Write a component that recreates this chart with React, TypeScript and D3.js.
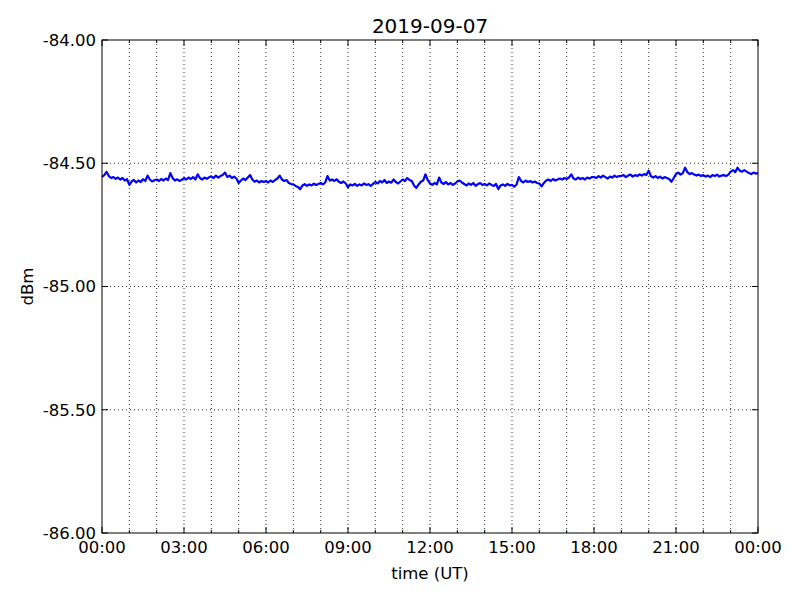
import React from "react";
import * as d3 from "d3";

const title = "2019-09-07";
const yTicks = [-86, -85.5, -85, -84.5, -84];
const xTickHours = [0, 3, 6, 9, 12, 15, 18, 21, 24];
const xTickLabels = ["00:00", "03:00", "06:00", "09:00", "12:00", "15:00", "18:00", "21:00", "00:00"];
const stepMinutes = 5;
// signal level (dBm), one sample every 5 minutes, 12 per hour
const levels: number[] = [
  -84.555, -84.548, -84.535, -84.552, -84.560, -84.556, -84.563, -84.558, -84.566, -84.560, -84.570, -84.565,
  -84.588, -84.574, -84.568, -84.578, -84.570, -84.576, -84.565, -84.572, -84.550, -84.566, -84.574, -84.569,
  -84.566, -84.572, -84.564, -84.570, -84.562, -84.568, -84.540, -84.560, -84.570, -84.565, -84.572, -84.567,
  -84.560, -84.566, -84.558, -84.564, -84.556, -84.566, -84.545, -84.560, -84.566, -84.558, -84.563, -84.557,
  -84.553, -84.560, -84.550, -84.558, -84.552, -84.548, -84.538, -84.556, -84.550, -84.560, -84.554, -84.562,
  -84.580, -84.570, -84.562, -84.568, -84.558, -84.548, -84.566, -84.575, -84.570, -84.578, -84.572, -84.576,
  -84.572, -84.578, -84.570, -84.576, -84.568, -84.562, -84.550, -84.566, -84.572, -84.568, -84.580, -84.584,
  -84.586, -84.592, -84.596, -84.605, -84.590, -84.585, -84.592, -84.586, -84.590, -84.583, -84.588, -84.584,
  -84.580, -84.586, -84.578, -84.552, -84.570, -84.566, -84.572, -84.565, -84.575, -84.580, -84.574, -84.582,
  -84.598, -84.586, -84.590, -84.584, -84.592, -84.586, -84.590, -84.582, -84.588, -84.585, -84.592, -84.584,
  -84.576, -84.582, -84.572, -84.578, -84.568, -84.580, -84.574, -84.579, -84.566, -84.576, -84.582, -84.574,
  -84.566, -84.572, -84.560, -84.568, -84.572, -84.590, -84.600, -84.586, -84.575, -84.570, -84.545, -84.568,
  -84.582, -84.588, -84.580, -84.586, -84.558, -84.578, -84.584, -84.576, -84.586, -84.580, -84.588, -84.582,
  -84.574, -84.570, -84.578, -84.584, -84.590, -84.582, -84.588, -84.580, -84.592, -84.585, -84.580, -84.588,
  -84.584, -84.590, -84.582, -84.588, -84.592, -84.584, -84.605, -84.590, -84.586, -84.592, -84.584, -84.590,
  -84.588, -84.595, -84.586, -84.556, -84.572, -84.578, -84.570, -84.576, -84.572, -84.578, -84.574, -84.580,
  -84.582, -84.594, -84.580, -84.570, -84.566, -84.572, -84.564, -84.570, -84.566, -84.562, -84.566, -84.560,
  -84.564, -84.558, -84.545, -84.562, -84.566, -84.558, -84.564, -84.560, -84.566, -84.558, -84.562, -84.556,
  -84.556, -84.560, -84.552, -84.558, -84.550, -84.556, -84.562, -84.554, -84.558, -84.550, -84.556, -84.552,
  -84.552, -84.548, -84.556, -84.550, -84.546, -84.554, -84.548, -84.552, -84.545, -84.550, -84.544, -84.548,
  -84.530, -84.552, -84.558, -84.552, -84.560, -84.554, -84.562, -84.556, -84.560, -84.564, -84.575, -84.560,
  -84.544, -84.538, -84.546, -84.540, -84.518, -84.536, -84.544, -84.540, -84.546, -84.550, -84.546, -84.552,
  -84.548, -84.554, -84.550, -84.556, -84.548, -84.552, -84.546, -84.554, -84.550, -84.548, -84.552, -84.546,
  -84.534, -84.528, -84.536, -84.518, -84.530, -84.534, -84.528, -84.534, -84.540, -84.544, -84.538, -84.542,
  -84.540,
];

const W = 800, H = 600;
const L = 102, R = 758, T = 40, B = 533;
const FONT = "'DejaVu Sans', sans-serif";

export default function App() {
  const x = d3.scaleLinear().domain([0, 24]).range([L, R]);
  const y = d3.scaleLinear().domain([-86, -84]).range([B, T]);
  const pts: [number, number][] = levels.map((v, i) => [(i * stepMinutes) / 60, v]);
  const line = d3.line<[number, number]>().x(d => x(d[0])).y(d => y(d[1]));
  const hours = d3.range(0, 25);
  const fmt = (v: number) => v.toFixed(2);

  return (
    <svg width={W} height={H} style={{ position: "absolute", left: 0, top: 0, background: "#fff" }}>
      <rect x={0} y={0} width={W} height={H} fill="#fff" />
      {/* grid */}
      {hours.slice(1, -1).map(h => (
        <line key={"gx" + h} x1={x(h)} x2={x(h)} y1={T} y2={B} stroke="#000" strokeWidth={0.8} strokeDasharray="1,3" />
      ))}
      {yTicks.slice(1, -1).map(v => (
        <line key={"gy" + v} x1={L} x2={R} y1={y(v)} y2={y(v)} stroke="#000" strokeWidth={0.8} strokeDasharray="1,3" />
      ))}
      {/* data */}
      <path d={line(pts) || ""} fill="none" stroke="#0000ff" strokeWidth={2.2} strokeLinejoin="round" />
      {/* ticks */}
      {hours.map(h => {
        const len = h % 3 === 0 ? 6 : 3;
        return (
          <g key={"tx" + h}>
            <line x1={x(h)} x2={x(h)} y1={B} y2={B - len} stroke="#000" />
            <line x1={x(h)} x2={x(h)} y1={T} y2={T + len} stroke="#000" />
          </g>
        );
      })}
      {yTicks.map(v => (
        <g key={"ty" + v}>
          <line x1={L} x2={L + 6} y1={y(v)} y2={y(v)} stroke="#000" />
          <line x1={R} x2={R - 6} y1={y(v)} y2={y(v)} stroke="#000" />
        </g>
      ))}
      <rect x={L} y={T} width={R - L} height={B - T} fill="none" stroke="#000" strokeWidth={1} />
      {/* labels */}
      {yTicks.map(v => (
        <text key={"ly" + v} x={L - 6} y={y(v)} dy="0.35em" textAnchor="end" fontFamily={FONT} fontSize={16.5}>
          {fmt(v)}
        </text>
      ))}
      {xTickHours.map((h, i) => (
        <text key={"lx" + i} x={x(h)} y={B + 20} textAnchor="middle" fontFamily={FONT} fontSize={16.5}>
          {xTickLabels[i]}
        </text>
      ))}
      <text x={(L + R) / 2} y={33} textAnchor="middle" fontFamily={FONT} fontSize={20}>{title}</text>
      <text x={(L + R) / 2} y={579} textAnchor="middle" fontFamily={FONT} fontSize={16.5}>time (UT)</text>
      <text transform={`translate(33,${(T + B) / 2}) rotate(-90)`} textAnchor="middle" fontFamily={FONT} fontSize={16.5}>dBm</text>
    </svg>
  );
}
